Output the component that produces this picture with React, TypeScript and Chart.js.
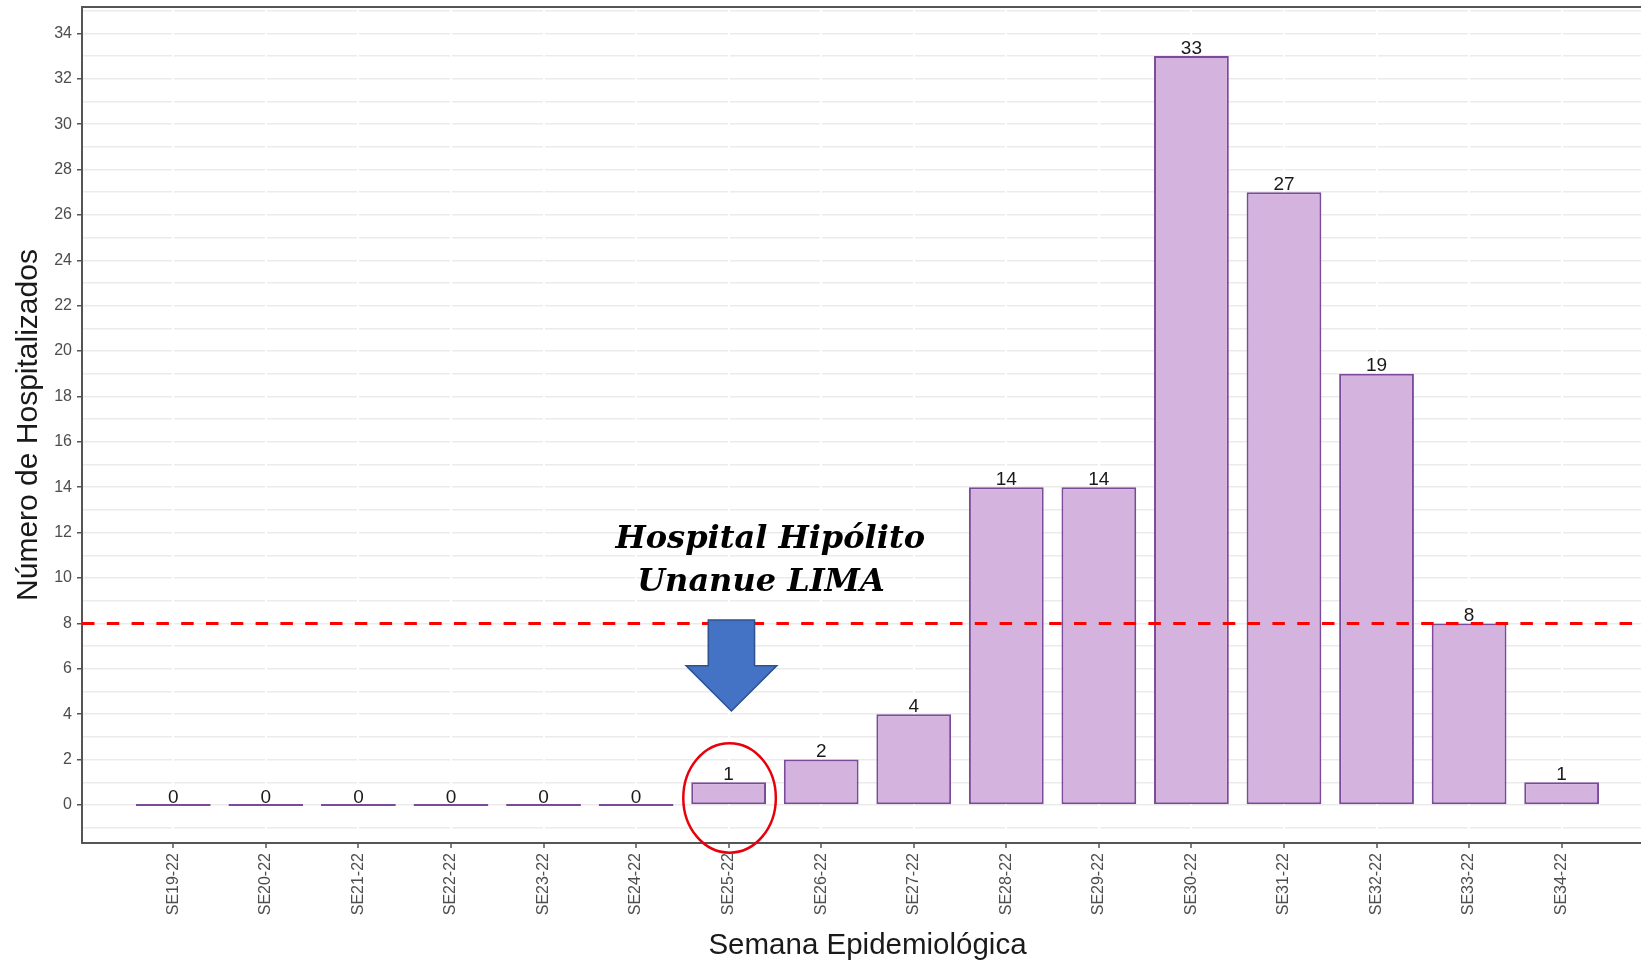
import React, { useEffect, useRef } from 'react';
import { Chart, registerables } from 'chart.js';

Chart.register(...registerables);

// ---- data ----
const weeks = [
  'SE19-22', 'SE20-22', 'SE21-22', 'SE22-22', 'SE23-22', 'SE24-22', 'SE25-22', 'SE26-22',
  'SE27-22', 'SE28-22', 'SE29-22', 'SE30-22', 'SE31-22', 'SE32-22', 'SE33-22', 'SE34-22',
];
const hospitalized = [0, 0, 0, 0, 0, 0, 1, 2, 4, 14, 14, 33, 27, 19, 8, 1];
const thresholdValue = 8;
const yLabelStep = 2;
const annotationLines = ['Hospital Hipólito', 'Unanue LIMA'];
const xTitle = 'Semana Epidemiológica';
const yTitle = 'Número de Hospitalizados';

// annotation anchors, in data units
const textAnchors = [
  { x: 6.45, y: 11.67 },
  { x: 6.35, y: 9.78 },
];
const arrowSpec = { x: 6.03, top: 8.15, headTop: 6.14, tip: 4.14, shaftHalf: 0.25, headHalf: 0.49 };
const ellipseSpec = { x: 6.01, y: 0.31, rx: 0.5, ry: 2.41 };

const FONT = '"Liberation Sans", Arial, sans-serif';

const overlayPlugin = {
  id: 'overlay',
  beforeDatasetsDraw(chart: any) {
    const { ctx, chartArea } = chart;
    ctx.save();
    ctx.strokeStyle = '#555555';
    ctx.lineWidth = 2;
    ctx.beginPath();
    ctx.moveTo(chartArea.left, chartArea.top);
    ctx.lineTo(chartArea.right, chartArea.top);
    ctx.stroke();
    ctx.restore();
  },
  afterDatasetsDraw(chart: any) {
    const { ctx, chartArea } = chart;
    const xs = chart.scales.x;
    const ys = chart.scales.y;

    // threshold dashed line
    ctx.save();
    ctx.beginPath();
    ctx.rect(chartArea.left, chartArea.top, chartArea.right - chartArea.left, chartArea.bottom - chartArea.top);
    ctx.clip();
    ctx.setLineDash([12.5, 12.3]);
    ctx.strokeStyle = '#FF0000';
    ctx.lineWidth = 3;
    const ty = ys.getPixelForValue(thresholdValue);
    ctx.beginPath();
    ctx.moveTo(chartArea.left, ty);
    ctx.lineTo(chartArea.right, ty);
    ctx.stroke();
    ctx.restore();

    // value labels
    ctx.save();
    ctx.font = `19px ${FONT}`;
    ctx.fillStyle = '#1A1A1A';
    ctx.textAlign = 'center';
    ctx.textBaseline = 'alphabetic';
    const meta = chart.getDatasetMeta(0);
    meta.data.forEach((el: any, i: number) => {
      const v = hospitalized[i];
      const py = ys.getPixelForValue(v);
      ctx.fillText(String(v), el.x, py - 2.5);
    });
    ctx.restore();

    // arrow
    const cx = xs.getPixelForValue(arrowSpec.x);
    const sh = xs.getPixelForValue(arrowSpec.x + arrowSpec.shaftHalf) - cx;
    const hh = xs.getPixelForValue(arrowSpec.x + arrowSpec.headHalf) - cx;
    const top = ys.getPixelForValue(arrowSpec.top);
    const headTop = ys.getPixelForValue(arrowSpec.headTop);
    const tip = ys.getPixelForValue(arrowSpec.tip);
    ctx.save();
    ctx.beginPath();
    ctx.moveTo(cx - sh, top);
    ctx.lineTo(cx + sh, top);
    ctx.lineTo(cx + sh, headTop);
    ctx.lineTo(cx + hh, headTop);
    ctx.lineTo(cx, tip);
    ctx.lineTo(cx - hh, headTop);
    ctx.lineTo(cx - sh, headTop);
    ctx.closePath();
    ctx.fillStyle = '#4472C4';
    ctx.fill();
    ctx.strokeStyle = '#2F528F';
    ctx.lineWidth = 1.5;
    ctx.stroke();
    ctx.restore();

    // ellipse
    const ex = xs.getPixelForValue(ellipseSpec.x);
    const ey = ys.getPixelForValue(ellipseSpec.y);
    const erx = xs.getPixelForValue(ellipseSpec.x + ellipseSpec.rx) - ex;
    const ery = ey - ys.getPixelForValue(ellipseSpec.y + ellipseSpec.ry);
    ctx.save();
    ctx.beginPath();
    ctx.ellipse(ex, ey, erx, ery, 0, 0, Math.PI * 2);
    ctx.strokeStyle = '#E8000B';
    ctx.lineWidth = 2.5;
    ctx.stroke();
    ctx.restore();

    // annotation text
    ctx.save();
    ctx.font = 'italic bold 32px "DejaVu Serif", serif';
    ctx.fillStyle = '#000000';
    ctx.textAlign = 'center';
    ctx.textBaseline = 'middle';
    annotationLines.forEach((line, i) => {
      ctx.fillText(line, xs.getPixelForValue(textAnchors[i].x), ys.getPixelForValue(textAnchors[i].y));
    });
    ctx.restore();
  },
};

export default function App() {
  const canvasRef = useRef<HTMLCanvasElement | null>(null);

  useEffect(() => {
    document.body.style.margin = '0';
    const canvas = canvasRef.current;
    if (!canvas) return;
    const chart = new Chart(canvas, {
      type: 'bar',
      data: {
        datasets: [
          {
            data: hospitalized.map((v, i) => ({ x: i, y: v })),
            backgroundColor: '#D4B3DE',
            borderColor: '#7B4A9A',
            borderWidth: 2,
            borderSkipped: false,
            minBarLength: 2,
            categoryPercentage: 1,
            barPercentage: 0.808,
          },
        ],
      },
      options: {
        animation: false,
        responsive: false,
        devicePixelRatio: 1,
        layout: { padding: { top: 7, left: 0, right: 0, bottom: 0 } },
        plugins: {
          legend: { display: false },
          tooltip: { enabled: false },
        },
        scales: {
          y: {
            type: 'linear',
            min: -1.674,
            max: 35.159,
            ticks: {
              stepSize: 1,
              autoSkip: false,
              includeBounds: false,
              padding: 5,
              color: '#4D4D4D',
              font: { family: FONT, size: 16 },
              callback: (v: any) => (Number(v) % yLabelStep === 0 ? String(v) : ''),
            },
            grid: {
              color: '#EBEBEB',
              lineWidth: 1.5,
              tickLength: 5,
              tickWidth: 1.5,
              tickColor: (c: any) =>
                c.tick && Number(c.tick.value) % yLabelStep === 0 ? '#555555' : 'rgba(0,0,0,0)',
            },
            border: { display: true, color: '#555555', width: 2 },
            title: {
              display: true,
              text: yTitle,
              color: '#1A1A1A',
              font: { family: FONT, size: 30, lineHeight: 1.2 },
              padding: { top: 11, bottom: 0 },
            },
            afterFit: (s: any) => {
              s.width = 82;
              s.paddingTop = 0;
              s.paddingBottom = 0;
            },
          },
          x: {
            type: 'linear',
            offset: false,
            min: -0.9864,
            max: 15.987,
            ticks: {
              stepSize: 1,
              autoSkip: false,
              includeBounds: false,
              minRotation: 90,
              maxRotation: 90,
              padding: 5,
              color: '#4D4D4D',
              font: { family: FONT, size: 16 },
              callback: (v: any) => weeks[Number(v)] ?? '',
            },
            grid: {
              offset: false,
              color: '#FFFFFF',
              lineWidth: 2,
              tickLength: 5,
              tickWidth: 1.5,
              tickColor: '#555555',
            },
            border: { display: true, color: '#555555', width: 2 },
            title: {
              display: true,
              text: xTitle,
              color: '#1A1A1A',
              font: { family: FONT, size: 29.5, lineHeight: 1.0 },
              padding: { top: 0, bottom: 0 },
            },
            afterFit: (s: any) => {
              s.height = 118;
              s.paddingLeft = 0;
              s.paddingRight = 0;
            },
          },
        },
      } as any,
      plugins: [overlayPlugin],
    });
    return () => chart.destroy();
  }, []);

  return (
    <div style={{ position: 'fixed', left: 0, top: 0, width: 1641, height: 961, overflow: 'hidden', background: '#FFFFFF' }}>
      <canvas ref={canvasRef} width={1653} height={961} style={{ display: 'block' }} />
    </div>
  );
}
